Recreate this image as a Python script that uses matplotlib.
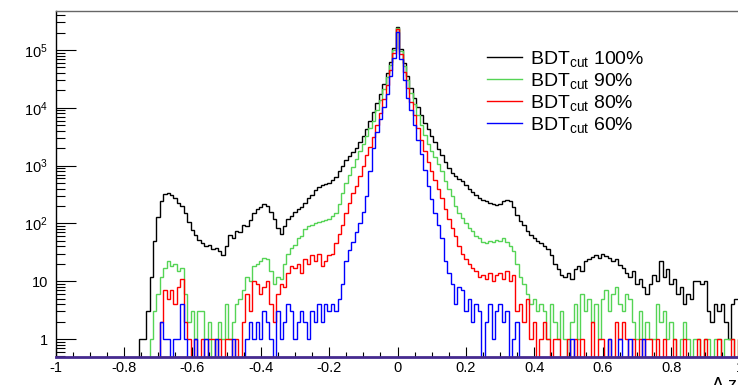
import numpy as np
import matplotlib
matplotlib.use("Agg")
import matplotlib.pyplot as plt
from matplotlib.lines import Line2D
from matplotlib.ticker import MultipleLocator, LogLocator, NullFormatter, FixedLocator, FixedFormatter

plt.rcParams["font.family"] = ["Liberation Sans", "DejaVu Sans"]
plt.rcParams["mathtext.fontset"] = "custom"
plt.rcParams["mathtext.rm"] = "Liberation Sans"
plt.rcParams["mathtext.it"] = "Liberation Sans:italic"
plt.rcParams["mathtext.bf"] = "Liberation Sans:bold"

# histogram binning: centres -1.00 ... 1.00, width 0.01
bin_lo, bin_hi, n_bins = -1.005, 1.005, 201

# entries per bin, rows of 10 bins (-1.00..-0.91, -0.90..-0.81, ...)
bdt100 = [0, 0, 0, 0, 0, 0, 0, 0, 0, 0,
          0, 0, 0, 0, 0, 0, 0, 0, 0, 0,
          0, 0, 0, 0, 0, 1, 1, 3, 12, 50,
          130, 240, 320, 330, 310, 280, 230, 200, 150, 105,
          78, 62, 52, 45, 40, 42, 36, 38, 33, 28,
          40, 62, 55, 75, 70, 95, 90, 115, 150, 178,
          195, 215, 200, 160, 118, 85, 65, 92, 120, 135,
          160, 178, 195, 230, 270, 310, 380, 430, 460, 480,
          500, 560, 640, 800, 1000, 1250, 1450, 1700, 2000, 2600,
          3300, 4300, 5900, 8500, 12000, 17000, 26000, 40000, 62000, 110000,
          250000, 105000, 60000, 35000, 22000, 15000, 10500, 7500, 5500, 4300,
          3300, 2600, 1950, 1500, 1150, 920, 760, 650, 580, 540,
          470, 400, 350, 310, 270, 250, 240, 225, 215, 205,
          215, 240, 255, 240, 190, 140, 110, 95, 75, 62,
          55, 50, 45, 40, 36, 28, 20, 16, 13, 12,
          14, 11, 16, 18, 15, 22, 24, 26, 28, 25,
          30, 27, 25, 22, 24, 19, 17, 14, 12, 15,
          9, 11, 8, 6, 9, 13, 10, 22, 12, 16,
          9, 11, 6, 8, 4, 6, 5, 10, 10, 9,
          10, 3, 2, 4, 3, 4, 2, 1, 4, 5,
          5]

bdt90 = [0, 0, 0, 0, 0, 0, 0, 0, 0, 0,
         0, 0, 0, 0, 0, 0, 0, 0, 0, 0,
         0, 0, 0, 0, 0, 0, 0, 0, 1, 3,
         6, 12, 17, 22, 18, 20, 15, 17, 6, 2,
         3, 1, 3, 3, 1, 2, 0, 1, 2, 1,
         4, 1, 2, 4, 5, 7, 12, 10, 18, 20,
         22, 25, 24, 15, 9, 12, 11, 20, 30, 38,
         42, 55, 60, 80, 90, 95, 100, 105, 110, 115,
         120, 135, 150, 220, 330, 500, 700, 950, 1300, 1800,
         2400, 3200, 4400, 6000, 9000, 13500, 21000, 34000, 55000, 100000,
         245000, 97000, 52000, 30000, 18000, 11500, 7500, 5000, 3400, 2400,
         1800, 1400, 1050, 800, 550, 400, 300, 200, 150, 125,
         100, 85, 75, 60, 55, 48, 45, 50, 48, 52,
         50, 56, 48, 40, 34, 20, 12, 9, 6, 4,
         5, 3, 4, 3, 1, 4, 2, 1, 3, 1,
         0, 2, 4, 1, 6, 3, 5, 2, 4, 1,
         5, 7, 3, 6, 8, 4, 3, 6, 5, 2,
         1, 3, 1, 2, 1, 1, 4, 2, 3, 1,
         2, 1, 0, 1, 2, 1, 0, 1, 1, 0,
         1, 1, 0, 1, 1, 0, 1, 1, 1, 0,
         1]

bdt80 = [0, 0, 0, 0, 0, 0, 0, 0, 0, 0,
         0, 0, 0, 0, 0, 0, 0, 0, 0, 0,
         0, 0, 0, 0, 0, 0, 0, 0, 0, 0,
         0, 2, 7, 5, 7, 4, 8, 11, 2, 1,
         0, 1, 0, 1, 0, 1, 1, 0, 1, 0,
         1, 1, 0, 1, 0, 2, 6, 3, 10, 9,
         6, 8, 10, 4, 2, 6, 9, 8, 14, 18,
         17, 20, 14, 24, 20, 28, 22, 30, 18, 22,
         28, 30, 45, 65, 95, 150, 230, 340, 450, 650,
         1000, 1500, 2100, 3100, 5000, 8000, 14000, 25000, 45000, 90000,
         230000, 85000, 42000, 22000, 12500, 7500, 4500, 2800, 1800, 1150,
         800, 560, 400, 270, 180, 120, 85, 60, 40, 30,
         24, 20, 17, 15, 12, 13, 11, 14, 10, 13,
         14, 11, 15, 10, 13, 3, 4, 2, 5, 1,
         2, 0, 1, 2, 1, 0, 1, 1, 0, 0,
         1, 0, 1, 0, 1, 0, 0, 2, 0, 1,
         1, 0, 1, 0, 2, 1, 2, 1, 0, 1,
         0, 1, 0, 1, 1, 0, 1, 0, 1, 0,
         0, 1, 0, 0, 1, 0, 0, 0, 1, 0,
         1, 0, 0, 0, 1, 0, 0, 0, 1, 0,
         1]

bdt60 = [0, 0, 0, 0, 0, 0, 0, 0, 0, 0,
         0, 0, 0, 0, 0, 0, 0, 0, 0, 0,
         0, 0, 0, 0, 0, 0, 0, 0, 0, 0,
         0, 2, 1, 1, 0, 1, 1, 4, 1, 0,
         0, 1, 0, 0, 1, 0, 0, 1, 0, 0,
         0, 0, 1, 0, 0, 0, 1, 2, 1, 2,
         1, 3, 2, 1, 0, 3, 1, 2, 4, 3,
         1, 2, 3, 2, 1, 3, 2, 4, 2, 4,
         3, 4, 3, 5, 9, 22, 35, 48, 70, 100,
         160, 300, 800, 2000, 3800, 6500, 10500, 17000, 35000, 72000,
         205000, 70000, 30000, 15000, 9000, 5000, 2800, 1600, 850, 450,
         260, 150, 95, 55, 22, 14, 9, 4, 8, 7,
         3, 5, 2, 4, 3, 0, 2, 4, 1, 3,
         4, 2, 3, 0, 1, 2, 0, 0, 0, 0,
         0, 0, 0, 0, 0, 0, 0, 0, 0, 0,
         0, 1, 0, 0, 0, 0, 0, 0, 0, 0,
         0, 0, 1, 0, 0, 1, 0, 0, 1, 0,
         0, 0, 1, 0, 0, 0, 0, 0, 0, 0,
         0, 0, 0, 0, 0, 0, 0, 0, 0, 0,
         0, 0, 0, 0, 0, 0, 0, 0, 0, 0,
         0]

labels = [r"BDT$_{\rm cut}$ 100%", r"BDT$_{\rm cut}$ 90%",
          r"BDT$_{\rm cut}$ 80%", r"BDT$_{\rm cut}$ 60%"]
colors = ["black", "#55d455", "#ff0000", "#0000ff"]

y_ticks = [1, 10, 100, 1e3, 1e4, 1e5]
y_ticklabels = ["1", "10", "$10^{2}$", "$10^{3}$", "$10^{4}$", "$10^{5}$"]


def fmt_x(x, pos):
    x = round(x, 2)
    return "0" if x == 0 else f"{x:g}"


edges = np.linspace(bin_lo, bin_hi, n_bins + 1)

fig = plt.figure(figsize=(7.38, 3.85), dpi=100)
ax = fig.add_axes([55.5 / 738, 28 / 385, 684 / 738, 346 / 385])

for vals, col in zip([bdt100, bdt90, bdt80, bdt60], colors):
    v = np.asarray(vals, dtype=float)
    v = np.where(v > 0, v, 1e-3)  # empty bins drop below the axis
    ax.stairs(v, edges, color=col, lw=1.0)

ax.set_yscale("log")
ax.set_xlim(-1, 1)
ax.set_ylim(0.489, 4.73e5)

ax.yaxis.set_major_locator(FixedLocator(y_ticks))
ax.yaxis.set_major_formatter(FixedFormatter(y_ticklabels))
ax.yaxis.set_minor_locator(LogLocator(base=10, subs=range(2, 10), numticks=20))
ax.yaxis.set_minor_formatter(NullFormatter())
ax.xaxis.set_major_locator(MultipleLocator(0.2))
ax.xaxis.set_minor_locator(MultipleLocator(0.05))
ax.xaxis.set_major_formatter(plt.FuncFormatter(fmt_x))

ax.tick_params(axis="y", which="major", direction="in", length=14.4, width=0.8,
               labelsize=10.5, pad=5.5)
ax.tick_params(axis="y", which="minor", direction="in", length=6.7, width=0.8)
ax.tick_params(axis="x", which="major", direction="in", length=7.2, width=0.8,
               labelsize=10.5, pad=3)
ax.tick_params(axis="x", which="minor", direction="in", length=3.6, width=0.8)

ax.spines["top"].set_color("#666666")
ax.spines["top"].set_linewidth(1.0)
ax.spines["left"].set_linewidth(1.0)
ax.spines["bottom"].set_color("#452a8f")
ax.spines["bottom"].set_linewidth(2.0)
ax.spines["right"].set_visible(False)

handles = [Line2D([], [], color=c, lw=1.0) for c in colors]
ax.legend(handles, labels, loc="upper left", bbox_to_anchor=(477 / 738, 1 - 39 / 385),
          bbox_transform=fig.transFigure, frameon=False, fontsize=14,
          handlelength=1.8, handletextpad=0.45, labelspacing=0.1, borderpad=0)

fig.text(0.999, 8 / 385, "Δ z", ha="right", va="top", fontsize=13)

fig.savefig("out.png", dpi=100)
